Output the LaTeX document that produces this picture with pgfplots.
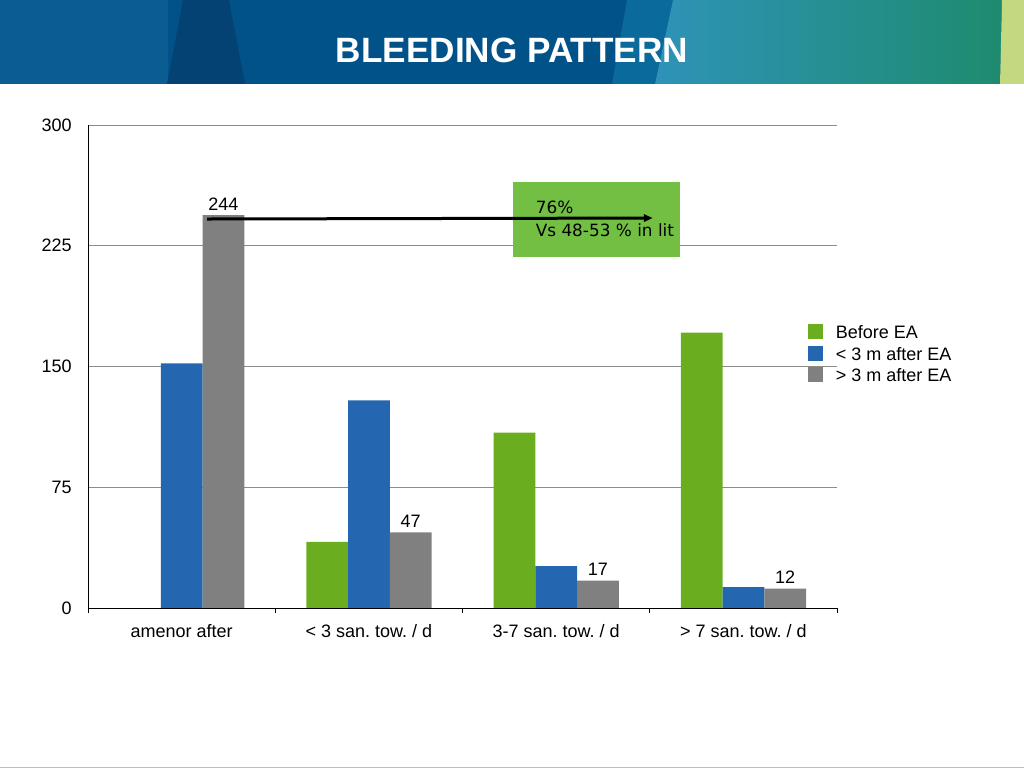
\documentclass[border=0pt]{standalone}
\usepackage{fontspec}
\setmainfont{Liberation Sans}
\newfontfamily\boxfont{DejaVu Sans}
\usepackage{pgfplots}
\pgfplotsset{compat=1.18}
\usetikzlibrary{arrows.meta}
\frenchspacing

\definecolor{bargreen}{HTML}{6AAD1E}
\definecolor{barblue}{HTML}{2467B0}
\definecolor{bargray}{HTML}{7F807F}
\definecolor{boxgreen}{HTML}{72BF44}
\definecolor{gridgray}{HTML}{8C8C8C}
\definecolor{hdrleft}{HTML}{0B5C93}
\definecolor{hdrdark}{HTML}{034273}
\definecolor{hdrmid}{HTML}{02528A}
\definecolor{hdrmed}{HTML}{0A6A9C}
\definecolor{hdrlight}{HTML}{2E93B8}
\definecolor{hdrteal}{HTML}{1E8B6E}
\definecolor{stripgreen}{HTML}{C4D97F}

\newcommand\tf{\fontsize{12.8}{15}\selectfont}

\begin{document}
\begin{tikzpicture}[x=0.25mm,y=0.25mm]
\useasboundingbox (0,0) rectangle (1024,768);
\fill[white] (0,0) rectangle (1024,768);

% header banner
\fill[hdrmid] (0,684) rectangle (1024,768);
\fill[hdrleft] (0,684) rectangle (168,768);
\fill[hdrdark] (167,684) -- (183,768) -- (229,768) -- (245,684) -- cycle;
\fill[hdrmed] (612,684) -- (627,768) -- (673,768) -- (655,684) -- cycle;
\path[left color=hdrlight, right color=hdrteal]
  (673,768) -- (1002,768) -- (1000,684) -- (655,684) -- cycle;
\fill[stripgreen] (1002,768) -- (1024,768) -- (1024,684) -- (1000,684) -- cycle;
\node[text=white, font=\fontsize{25}{29}\selectfont\bfseries] at (512,718) {BLEEDING PATTERN};
\fill[hdrlight!50!white] (0,0) rectangle (1024,1.5);

\begin{axis}[
  at={(22mm,40mm)}, anchor=south west,
  scale only axis,
  width=187.25mm, height=120.75mm,
  xmin=-0.5, xmax=3.5,
  ymin=0, ymax=300,
  ybar=0pt, bar width=0.223,
  axis x line*=bottom, axis y line*=left,
  axis line style={black, line width=0.7pt},
  ytick={0,75,150,225,300},
  ymajorgrids,
  grid style={draw=gridgray, line width=0.6pt},
  xtick={0,1,2,3},
  xticklabels={amenor after, {< 3 san. tow. / d}, {3-7 san. tow. / d}, {> 7 san. tow. / d}},
  tick align=outside,
  major tick length=1.25mm,
  xtick style={draw=none},
  ytick style={draw=none},
  extra x ticks={-0.5,0.5,1.5,2.5,3.5},
  extra x tick labels={},
  extra x tick style={xtick style={draw=black, line width=0.6pt}, xmajorgrids=false},
  tick label style={font=\tf},
  yticklabel style={xshift=-1.6mm},
  xticklabel style={text height=3.3mm, text depth=0.9mm, yshift=-1.5mm},
  /pgf/number format/assume math mode=true,
  legend style={draw=none, fill=none, at={(0.961,0.588)}, anchor=north west,
    font=\tf, inner sep=0pt, row sep=0.9mm, column sep=3.2mm,
    nodes={inner sep=0pt, text height=3.2mm, text depth=0.8mm}},
  legend cell align=left,
  legend image code/.code={\fill[#1] (0mm,-1.275mm) rectangle (3.75mm,2.475mm);},
]
\addplot[fill=bargreen, draw=none] coordinates {(1,41) (2,109) (3,171)};
\addlegendentry{Before EA}
\addplot[fill=barblue, draw=none] coordinates {(0,152) (1,129) (2,26) (3,13)};
\addlegendentry{< 3 m after EA}
\addplot[fill=bargray, draw=none, nodes near coords,
  nodes near coords style={font=\tf, text=black}]
  coordinates {(0,244) (1,47) (2,17) (3,12)};
\addlegendentry{> 3 m after EA}

\fill[boxgreen] (axis cs:1.767,218) rectangle (axis cs:2.660,264.6);
\node[anchor=west, inner sep=0pt, font=\boxfont\fontsize{12}{14}\selectfont]
  at (axis cs:1.890,249.1) {76\%};
\node[anchor=west, inner sep=0pt, font=\boxfont\fontsize{12}{14}\selectfont]
  at (axis cs:1.890,234.8) {Vs 48-53 \% in lit};
\draw[line width=0.75mm, -{Triangle[length=2.2mm, width=1.8mm]}]
  (axis cs:0.136,241.6) -- (axis cs:2.516,242.2);
\end{axis}
\end{tikzpicture}
\end{document}
